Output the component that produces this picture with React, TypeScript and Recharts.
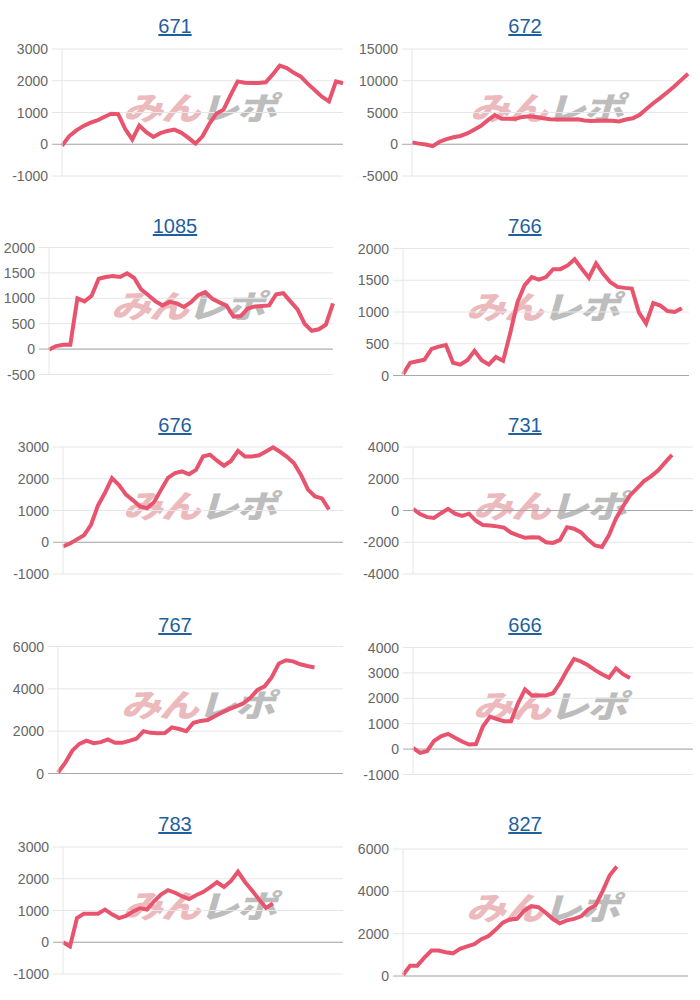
import React from 'react';
import { LineChart, Line, XAxis, YAxis, CartesianGrid, ReferenceLine } from 'recharts';

// shared x slots (games); shorter series simply stop early
const games = [
  1, 2, 3, 4, 5, 6, 7, 8, 9, 10, 11, 12, 13, 14, 15, 16, 17, 18, 19, 20, 21,
  22, 23, 24, 25, 26, 27, 28, 29, 30, 31, 32, 33, 34, 35, 36, 37, 38, 39, 40, 41,
];

const s671 = [
  -50, 250, 430, 570, 670, 750, 860, 960, 950, 480, 150, 590, 380, 230, 350, 420, 460, 360, 200, 20,
  250, 650, 970, 1090, 1550, 1980, 1940, 1930, 1930, 1950, 2200, 2480, 2400, 2250, 2130, 1900, 1700,
  1500, 1350, 1980, 1920,
];
const s672 = [
  300, 100, -50, -300, 400, 800, 1100, 1300, 1700, 2300, 2900, 3800, 4600, 4000, 4000, 4000, 4300,
  4400, 4300, 4100, 3950, 3900, 3900, 3900, 3950, 3750, 3650, 3700, 3750, 3700, 3600, 3900, 4100,
  4650, 5600, 6500, 7300, 8200, 9100, 10100, 11100,
];
const s1085 = [
  -10, 60, 85, 85, 1000, 940, 1050, 1385, 1420, 1440, 1420, 1490, 1400, 1170, 1060, 940, 860, 930,
  900, 830, 925, 1060, 1120, 990, 920, 855, 640, 650, 800, 840, 850, 860, 1080, 1100, 940, 780, 500,
  360, 390, 480, 900,
];
const s766 = [
  20, 200, 225, 250, 420, 455, 480, 200, 170, 240, 390, 240, 175, 290, 230, 670, 1150, 1420, 1550,
  1510, 1550, 1675, 1675, 1730, 1830, 1680, 1540, 1765, 1600, 1470, 1395, 1380, 1370, 990, 820, 1140,
  1100, 1015, 1000, 1060,
];
const s676 = [
  -130, -40, 90, 220, 550, 1160, 1560, 2020, 1800, 1500, 1320, 1130, 1070, 1260, 1650, 2030, 2180,
  2230, 2140, 2280, 2700, 2760, 2570, 2410, 2560, 2880, 2700, 2700, 2740, 2860, 2990, 2850, 2690,
  2490, 2120, 1660, 1440, 1380, 1030,
];
const s731 = [
  100, -220, -420, -470, -170, 100, -200, -340, -200, -650, -920, -950, -1000, -1080, -1400, -1560,
  -1720, -1680, -1700, -2000, -2040, -1850, -1050, -1150, -1380, -1830, -2200, -2300, -1550, -500,
  250, 950, 1400, 1850, 2150, 2520, 3020, 3500,
];
const s767 = [
  50, 500, 1080, 1400, 1550, 1430, 1480, 1610, 1450, 1450, 1540, 1640, 2000, 1920, 1900, 1910, 2180,
  2100, 2000, 2400, 2480, 2530, 2700, 2880, 3040, 3170, 3310, 3580, 3950, 4120, 4550, 5200, 5350,
  5300, 5160, 5080, 5010,
];
const s666 = [
  50, -150, -80, 320, 500, 600, 450, 300, 180, 200, 900, 1280, 1180, 1100, 1100, 1800, 2350, 2110,
  2110, 2110, 2200, 2600, 3100, 3550, 3450, 3300, 3110, 2950, 2810, 3180, 2950, 2800,
];
const s783 = [
  0, -130, 760, 900, 900, 900, 1030, 880, 760, 830, 970, 1070, 1030, 1290, 1500, 1640, 1560, 1450,
  1360, 1480, 1580, 1730, 1890, 1740, 1930, 2220, 1900, 1630, 1350, 1080, 1220,
];
const s827 = [
  50, 490, 490, 870, 1200, 1200, 1120, 1070, 1280, 1400, 1500, 1740, 1890, 2180, 2520, 2670, 2700,
  3080, 3300, 3250, 3000, 2700, 2490, 2630, 2700, 2820, 3150, 3330, 4000, 4750, 5170,
];

const ticks3000 = [-1000, 0, 1000, 2000, 3000];
const ticks15000 = [-5000, 0, 5000, 10000, 15000];
const ticks2000a = [-500, 0, 500, 1000, 1500, 2000];
const ticks2000b = [0, 500, 1000, 1500, 2000];
const ticks4000a = [-4000, -2000, 0, 2000, 4000];
const ticks6000 = [0, 2000, 4000, 6000];
const ticks4000b = [-1000, 0, 1000, 2000, 3000, 4000];

const GRID = '#e6e6e6';
const ZERO = '#a8a8a8';
const LINE = '#e8546e';

const Tick = (props: any) => {
  const { x, y, payload } = props;
  const zero = payload.value === 0;
  return (
    <g>
      <line x1={x + 4} x2={x + 14} y1={y} y2={y} stroke={zero ? ZERO : GRID} />
      <text x={x} y={y} dy={5} textAnchor="end" fill="#666" fontSize={14} fontFamily="Liberation Sans, Arial, sans-serif">
        {payload.value}
      </text>
    </g>
  );
};

interface PanelProps {
  title: string;
  values: number[];
  ticks: number[];
  col: number;
  row: number;
  yWidth: number;
  mr: number;
  top: number;
  bottom: number;
}

function Panel({ title, values, ticks, col, row, yWidth, mr, top, bottom }: PanelProps) {
  const data = games.map((g, i) => ({ g, v: i < values.length ? values[i] : null }));
  const plotCx = (yWidth + 350 - mr) / 2;
  return (
    <div style={{ position: 'absolute', left: col * 350, top: row * 199.5, width: 350, height: 200 }}>
      <div
        style={{
          position: 'absolute', top: 15, left: 0, width: 350, textAlign: 'center',
          fontFamily: 'Liberation Sans, Arial, sans-serif', fontSize: 20, color: '#1f5f9e',
          textDecoration: 'underline',
        }}
      >
        {title}
      </div>
      <div
        style={{
          position: 'absolute', top: (top + bottom) / 2 - 27, left: plotCx - 90, width: 180,
          textAlign: 'center', fontFamily: 'Noto Sans CJK JP, sans-serif', fontWeight: 900,
          fontSize: 40, lineHeight: '40px', letterSpacing: -2,
          transform: 'skewX(-16deg) scaleY(0.8)', whiteSpace: 'nowrap',
        }}
      >
        <span style={{ color: '#ecb9bd' }}>みん</span>
        <span style={{ color: '#bdbdbd' }}>レポ</span>
      </div>
      <LineChart
        width={350}
        height={200}
        data={data}
        margin={{ top, right: mr, bottom: 200 - bottom, left: 0 }}
      >
        <CartesianGrid vertical={false} stroke={GRID} />
        <XAxis dataKey="g" hide />
        <YAxis
          type="number"
          width={yWidth}
          domain={[ticks[0], ticks[ticks.length - 1]]}
          ticks={ticks}
          interval={0}
          tick={<Tick />}
          tickLine={false}
          tickSize={10}
          tickMargin={4}
          axisLine={{ stroke: GRID }}
        />
        <ReferenceLine y={0} stroke={ZERO} />
        <Line
          type="linear"
          dataKey="v"
          stroke={LINE}
          strokeWidth={4}
          dot={false}
          isAnimationActive={false}
        />
      </LineChart>
    </div>
  );
}

export default function App() {
  return (
    <div style={{ position: 'absolute', left: 0, top: 0, width: 700, height: 1000, background: '#fff' }}>
      <Panel title="671" values={s671} ticks={ticks3000} col={0} row={0} yWidth={62} mr={7} top={49} bottom={176} />
      <Panel title="672" values={s672} ticks={ticks15000} col={1} row={0} yWidth={62} mr={12} top={49} bottom={176} />
      <Panel title="1085" values={s1085} ticks={ticks2000a} col={0} row={1} yWidth={49} mr={17} top={47.5} bottom={174.5} />
      <Panel title="766" values={s766} ticks={ticks2000b} col={1} row={1} yWidth={53} mr={11} top={48.5} bottom={175.5} />
      <Panel title="676" values={s676} ticks={ticks3000} col={0} row={2} yWidth={63} mr={7} top={48} bottom={175} />
      <Panel title="731" values={s731} ticks={ticks4000a} col={1} row={2} yWidth={63} mr={7} top={48} bottom={175} />
      <Panel title="767" values={s767} ticks={ticks6000} col={0} row={3} yWidth={58} mr={7} top={47.5} bottom={174.5} />
      <Panel title="666" values={s666} ticks={ticks4000b} col={1} row={3} yWidth={63} mr={7} top={48.5} bottom={175.5} />
      <Panel title="783" values={s783} ticks={ticks3000} col={0} row={4} yWidth={63} mr={7} top={49} bottom={176} />
      <Panel title="827" values={s827} ticks={ticks6000} col={1} row={4} yWidth={53} mr={12} top={51} bottom={178} />
    </div>
  );
}
